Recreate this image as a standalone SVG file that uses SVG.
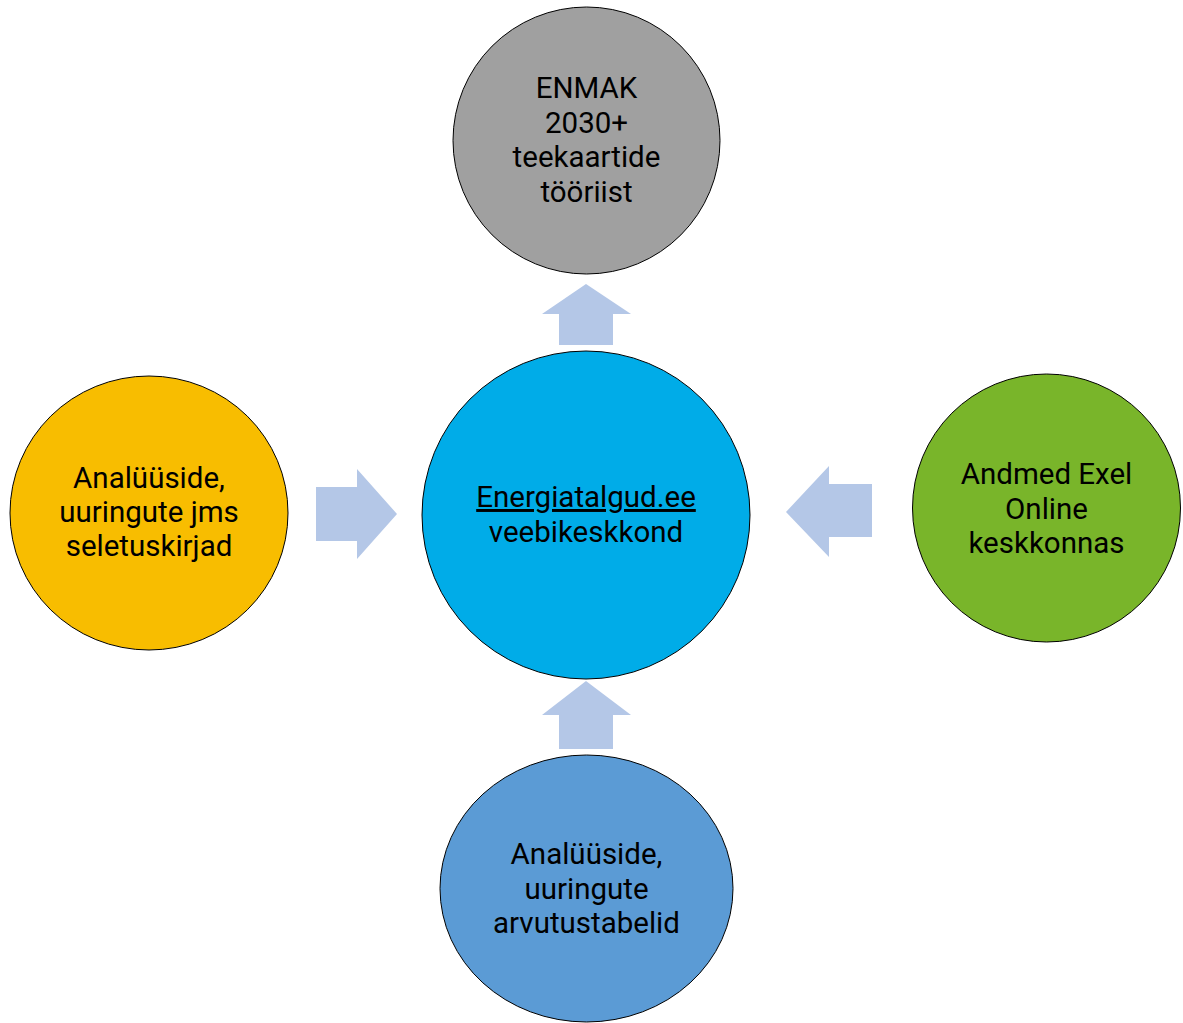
<svg xmlns="http://www.w3.org/2000/svg" width="1183" height="1023" viewBox="0 0 1183 1023">
  <style>
    .node { stroke: #000; stroke-width: 1; }
    .label { font-family: Roboto, "Liberation Sans", sans-serif; font-size: 29.5px; fill: #000; text-anchor: middle; }
    .arrow { fill: #b4c7e7; }
  </style>
  <rect width="1183" height="1023" fill="#ffffff"/>

  <!-- block arrows pointing into / out of the central node -->
  <g id="connectors">
    <polygon class="arrow" points="559,345 559,314 542,314 586,284 631,314 613,314 613,345"/>
    <polygon class="arrow" points="316,487 357,487 357,469 397,514 357,559 357,541 316,541"/>
    <polygon class="arrow" points="872,484 829,484 829,466 786,512 829,557 829,537 872,537"/>
    <polygon class="arrow" points="559,749 559,715 542,715 586,681 631,715 613,715 613,749"/>
  </g>

  <g id="node-enmak">
    <circle class="node" cx="586.5" cy="140.5" r="133.5" fill="#a0a0a0"/>
    <text class="label" x="586.5" y="97.5">ENMAK</text>
    <text class="label" x="586.5" y="132.5">2030+</text>
    <text class="label" x="586.5" y="167">teekaartide</text>
    <text class="label" x="586.5" y="202">tööriist</text>
  </g>

  <g id="node-center">
    <circle class="node" cx="586" cy="515" r="164" fill="#00ace8"/>
    <text class="label" x="586" y="507" text-decoration="underline">Energiatalgud.ee</text>
    <text class="label" x="586" y="542">veebikeskkond</text>
  </g>

  <g id="node-seletuskirjad">
    <ellipse class="node" cx="149" cy="513" rx="139" ry="137" fill="#f8bd00"/>
    <text class="label" x="149" y="488">Analüüside,</text>
    <text class="label" x="149" y="521.5">uuringute jms</text>
    <text class="label" x="149" y="555.5">seletuskirjad</text>
  </g>

  <g id="node-excel">
    <circle class="node" cx="1046.5" cy="508" r="134" fill="#79b52a"/>
    <text class="label" x="1046.5" y="484">Andmed Exel</text>
    <text class="label" x="1046.5" y="518.5">Online</text>
    <text class="label" x="1046.5" y="553">keskkonnas</text>
  </g>

  <g id="node-arvutustabelid">
    <ellipse class="node" cx="586.5" cy="888.5" rx="146.5" ry="133.5" fill="#5b9bd5"/>
    <text class="label" x="586.5" y="864">Analüüside,</text>
    <text class="label" x="586.5" y="899">uuringute</text>
    <text class="label" x="586.5" y="933">arvutustabelid</text>
  </g>
</svg>
